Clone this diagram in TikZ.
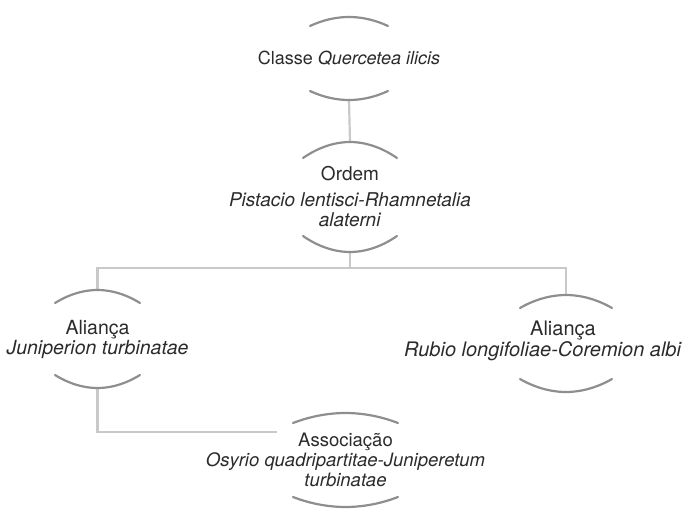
\documentclass[tikz,border=0pt]{standalone}
\usepackage{fontspec}
\setmainfont{TeX Gyre Heros}
\usetikzlibrary{calc,positioning}

\definecolor{arcgray}{HTML}{8E8E8E}
\definecolor{linkgray}{HTML}{C9C9C9}
\definecolor{txtgray}{HTML}{2B2B2B}

\tikzset{
  bracket/.style={inner sep=0pt, outer sep=0pt},
  txt/.style={align=center, inner sep=0pt, text=txtgray,
    font=\fontsize{18}{20}\selectfont},
  arcline/.style={draw=arcgray, line width=2.2pt, line cap=round},
  link/.style={draw=linkgray, line width=2.2pt}
}

% the two arcs round a bracket node: name, sag
\newcommand{\brackets}[2]{%
  \draw[arcline] ([yshift=-#2]#1.north west) parabola bend (#1.north) ([yshift=-#2]#1.north east);
  \draw[arcline] ([yshift=#2]#1.south west) parabola bend (#1.south) ([yshift=#2]#1.south east);
}

\begin{document}
\begin{tikzpicture}[x=1pt, y=-1pt]
    \useasboundingbox (0,0) rectangle (691,509);

    % brackets
    \node[bracket, minimum width=78pt, minimum height=83pt] (classe) at (349,58.5) {};
    \node[bracket, minimum width=94pt, minimum height=110pt] (ordem) at (350,197) {};
    \node[bracket, minimum width=85pt, minimum height=98pt] (aljun) at (97.5,339) {};
    \node[bracket, minimum width=92pt, minimum height=97pt] (alrub) at (566,343.5) {};
    \node[bracket, minimum width=105pt, minimum height=94pt] (assoc) at (345.5,460) {};

    % connectors
    \draw[link] (classe.south) -- (ordem.north);
    \draw[link] (ordem.south) -- ++(0,16) -| (aljun.north);
    \draw[link] (ordem.south) -- ++(0,16) -| (alrub.north);
    \draw[link] (aljun.south) |- ([shift={(-16pt,28pt)}]assoc.west);

    \brackets{classe}{9pt}
    \brackets{ordem}{16pt}
    \brackets{aljun}{13pt}
    \brackets{alrub}{13pt}
    \brackets{assoc}{10pt}

    % texts
    \node[txt] (classe-t) at (classe) {Classe \textit{Quercetea ilicis}};
    \node[txt, font=\fontsize{19}{20}\selectfont] (ordem-t) at (ordem)
        {Ordem\\[6pt] \textit{Pistacio lentisci-Rhamnetalia}\\ \textit{alaterni}};
    \node[txt, font=\fontsize{19.5}{20}\selectfont] (aljun-t) at (aljun)
        {Aliança\\ \textit{Juniperion turbinatae}};
    \node[txt, font=\fontsize{20}{17}\selectfont] (alrub-t) at (543,341)
        {\hspace*{40pt}Aliança\\ \textit{Rubio longifoliae-Coremion albi}};
    \node[txt, font=\fontsize{18.5}{20}\selectfont] (assoc-t) at (assoc)
        {Associação\\ \textit{Osyrio quadripartitae-Juniperetum}\\ \textit{turbinatae}};
\end{tikzpicture}
\end{document}
